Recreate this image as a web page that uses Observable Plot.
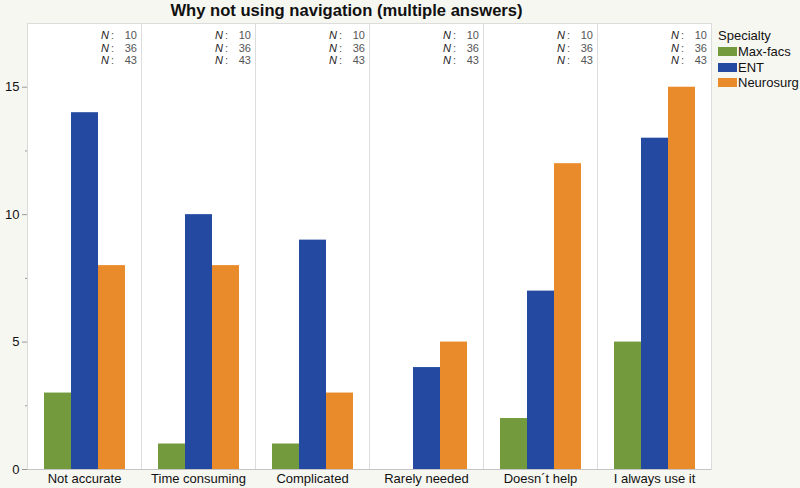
<!DOCTYPE html>
<html>
<head>
<meta charset="utf-8">
<script src="https://cdn.jsdelivr.net/npm/d3@7"></script>
<script src="https://cdn.jsdelivr.net/npm/@observablehq/plot@0.6"></script>
<style>
  html, body { margin: 0; padding: 0; background: #f7f7f2; }
  #wrap { position: relative; width: 800px; height: 488px; font-family: "Liberation Sans", Arial, Helvetica, sans-serif; }
  #title { position: absolute; left: 0px; width: 693px; top: 0px; line-height: 21px; text-align: center; font-weight: bold; font-size: 16.6px; color: #111; }
  #legend { position: absolute; left: 718px; top: 27px; font-size: 13px; color: #111; }
  #legend .head { height: 17px; line-height: 17px; margin-bottom: 0px; }
  #legend .item { height: 15.5px; line-height: 15.5px; display: flex; align-items: center; }
  #legend .sw { width: 19px; height: 9px; margin-right: 1px; }
  svg { position: absolute; left: 0; top: 0; }
</style>
</head>
<body>
<div id="wrap">
  <div id="title"></div>
  <div id="legend"></div>
</div>
<script>
const titleText = "Why not using navigation (multiple answers)";
const categories = ["Not accurate", "Time consuming", "Complicated", "Rarely needed", "Doesn\u00b4t help", "I always use it"];
const specialties = ["Max-facs", "ENT", "Neurosurg"];
const maxFacs = [3, 1, 1, 0, 2, 5];
const ent = [14, 10, 9, 4, 7, 13];
const neurosurg = [8, 8, 3, 5, 12, 15];
const nCounts = [10, 36, 43];
const colors = ["#739b3e", "#234aa0", "#ea8b2b"];
const yTicks = [0, 5, 10, 15];
const yMinorTicks = [2.5, 7.5, 12.5];

const seriesValues = [maxFacs, ent, neurosurg];
const rows = [];
categories.forEach((c, i) => {
  specialties.forEach((s, j) => {
    rows.push({category: c, specialty: s, value: seriesValues[j][i]});
  });
});

document.getElementById("title").textContent = titleText;

const font = "'Liberation Sans', Arial, Helvetica, sans-serif";

// N annotation block in the top-right of every panel: three stacked lines
const nFont = 11;
const nLineHeight = 12.4 / nFont;
const nCommon = {fx: d => d, frameAnchor: "top-right", lineAnchor: "top", dy: 6.8, fontSize: nFont, lineHeight: nLineHeight};
const nMarks = [
  Plot.text(categories, {...nCommon, text: () => nCounts.map(String).join("\n"), dx: -4.5, fill: "#555"}),
  Plot.text(categories, {...nCommon, text: () => nCounts.map(() => ":").join("\n"), dx: -27.5, fill: "#555"}),
  Plot.text(categories, {...nCommon, text: () => nCounts.map(() => "N").join("\n"), dx: -32.5, fill: "#222", fontStyle: "italic"})
];

const chart = Plot.plot({
  width: 800,
  height: 488,
  marginLeft: 25,
  marginRight: 88,
  marginTop: 23,
  marginBottom: 19,
  style: {fontFamily: font, fontSize: "13px", color: "#111", background: "transparent"},
  fx: {domain: categories, padding: 0, label: null},
  x: {domain: specialties, paddingInner: 0, paddingOuter: 0.55, axis: null},
  y: {domain: [0, 17.5], label: null},
  color: {domain: specialties, range: colors},
  marks: [
    Plot.frame({fill: "white", stroke: "#dcdcdc"}),
    Plot.barY(rows, {fx: "category", x: "specialty", y: "value", fill: "specialty"}),
    Plot.axisY({ticks: yTicks, tickSize: 5, tickPadding: 3, label: null, fontSize: 13, stroke: "#999"}),
    Plot.axisY({ticks: yMinorTicks, tickSize: 2, tickFormat: () => "", label: null, stroke: "#999"}),
    Plot.axisFx({anchor: "bottom", tickSize: 0, tickPadding: 4, label: null, fontSize: 13}),
    ...nMarks,
    Plot.ruleY([0], {stroke: "#c4c4c4"})
  ]
});
document.getElementById("wrap").appendChild(chart);

const legend = document.getElementById("legend");
const head = document.createElement("div");
head.className = "head";
head.textContent = "Specialty";
legend.appendChild(head);
specialties.forEach((s, j) => {
  const item = document.createElement("div");
  item.className = "item";
  const sw = document.createElement("div");
  sw.className = "sw";
  sw.style.background = colors[j];
  const lab = document.createElement("span");
  lab.textContent = s;
  item.appendChild(sw);
  item.appendChild(lab);
  legend.appendChild(item);
});
</script>
</body>
</html>
